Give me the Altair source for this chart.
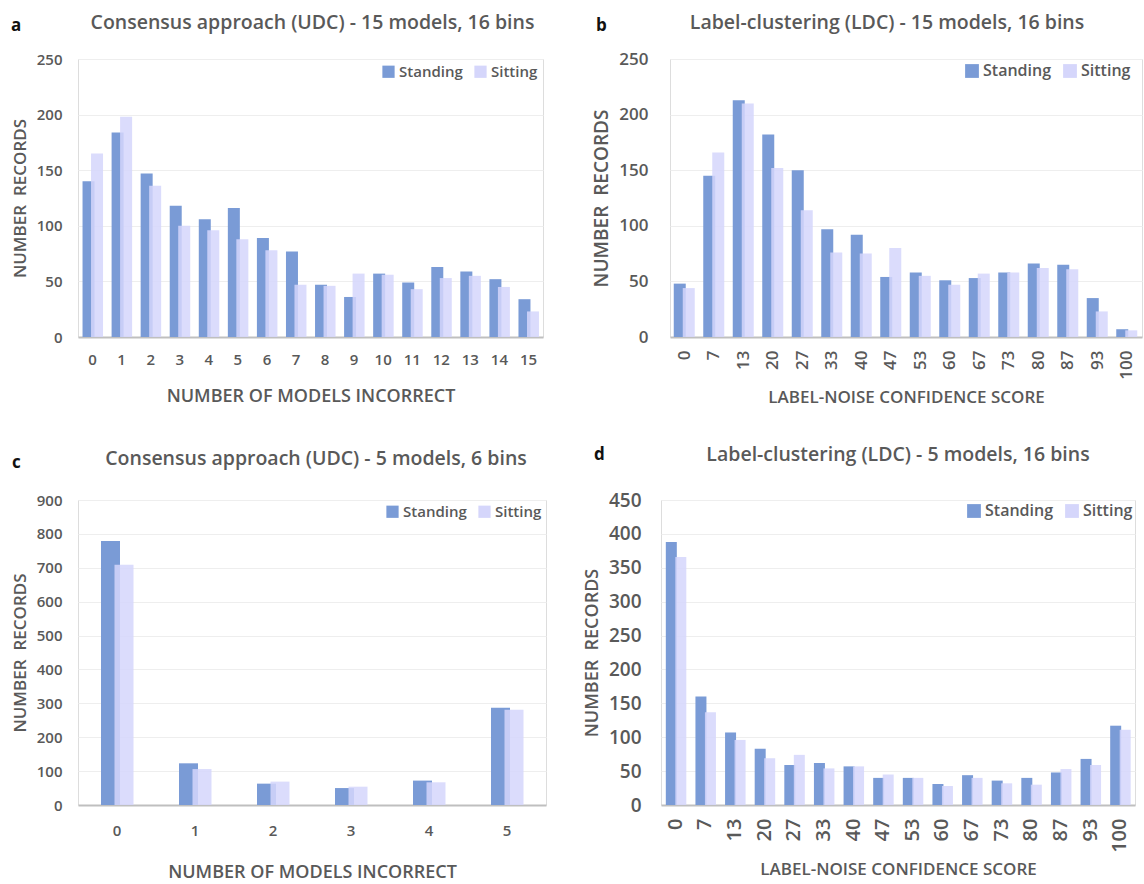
import altair as alt
import pandas as pd

SERIES = ["Standing", "Sitting"]
COLORS = ["#7a9bd6", "#d5d6fb"]

# Panel a
a_cats = [str(i) for i in range(16)]
a_standing = [140, 184, 147, 118, 106, 116, 89, 77, 47, 36, 57, 49, 63, 59, 52, 34]
a_sitting = [165, 198, 136, 100, 96, 88, 78, 47, 46, 57, 56, 43, 53, 55, 45, 23]

# Panel b
b_cats = ["0", "7", "13", "20", "27", "33", "40", "47", "53", "60", "67", "73", "80", "87", "93", "100"]
b_standing = [48, 145, 213, 182, 150, 97, 92, 54, 58, 51, 53, 58, 66, 65, 35, 7]
b_sitting = [44, 166, 210, 152, 114, 76, 75, 80, 55, 47, 57, 58, 62, 61, 23, 6]

# Panel c
c_cats = ["0", "1", "2", "3", "4", "5"]
c_standing = [779, 123, 63, 50, 72, 287]
c_sitting = [709, 106, 69, 54, 67, 281]

# Panel d
d_cats = ["0", "7", "13", "20", "27", "33", "40", "47", "53", "60", "67", "73", "80", "87", "93", "100"]
d_standing = [388, 160, 107, 83, 59, 62, 57, 40, 40, 31, 44, 36, 40, 48, 68, 117]
d_sitting = [366, 137, 96, 69, 74, 54, 57, 45, 40, 28, 40, 32, 30, 53, 59, 111]

TITLES = [
    "Consensus approach (UDC) - 15 models, 16 bins",
    "Label-clustering (LDC) - 15 models, 16 bins",
    "Consensus approach (UDC) - 5 models, 6 bins",
    "Label-clustering (LDC) - 5 models, 16 bins",
]
LETTERS = ["a", "b", "c", "d"]
X_TITLES = ["NUMBER OF MODELS INCORRECT", "LABEL-NOISE CONFIDENCE SCORE",
            "NUMBER OF MODELS INCORRECT", "LABEL-NOISE CONFIDENCE SCORE"]
Y_TITLE = "NUMBER\u00a0 RECORDS"

FONT = "Open Sans"
GRAY = "#595959"


def panel(cats, standing, sitting, title, letter, xtitle, ymax, ystep, cfg):
    df = pd.DataFrame({
        "cat": cats * 2,
        "series": [SERIES[0]] * len(cats) + [SERIES[1]] * len(cats),
        "value": standing + sitting,
    })
    color = alt.Color(
        "series:N",
        scale=alt.Scale(domain=SERIES, range=COLORS),
        legend=alt.Legend(
            orient="none", legendX=cfg["lx"], legendY=cfg["ly"], direction="horizontal",
            title=None, symbolType="square", symbolSize=cfg["ss"], symbolStrokeWidth=0,
            symbolOpacity=1, labelFont=FONT, labelFontSize=cfg["lf"], labelFontWeight=600,
            labelColor=GRAY, columnPadding=cfg["cp"], labelOffset=3,
        ),
    )
    x = alt.X(
        "cat:N", sort=cats,
        scale=alt.Scale(paddingInner=0, paddingOuter=0),
        axis=alt.Axis(
            title=xtitle, labelAngle=cfg["angle"], ticks=False, domainColor="#bfbfbf",
            domainWidth=2, labelFont=FONT, labelFontSize=cfg["xf"], labelFontWeight=600,
            labelColor=GRAY, labelPadding=cfg["xlp"], titleFont=FONT,
            titleFontSize=cfg["xtf"], titleFontWeight=600, titleColor=GRAY,
            titlePadding=cfg["xtp"],
        ),
    )
    y = alt.Y(
        "value:Q",
        scale=alt.Scale(domain=[0, ymax], nice=False),
        axis=alt.Axis(
            title=Y_TITLE, values=list(range(0, ymax + 1, ystep)), ticks=False, domain=False,
            gridColor="#eeeeee", gridWidth=1, labelFont=FONT, labelFontSize=cfg["yf"],
            labelFontWeight=600, labelColor=GRAY, labelPadding=cfg["ylp"], titleFont=FONT,
            titleFontSize=cfg["ytf"], titleFontWeight=600, titleColor=GRAY,
            titlePadding=cfg["ytp"],
        ),
    )
    base = alt.Chart(df)
    st = base.transform_filter(alt.datum.series == SERIES[0]).mark_bar(
        width=cfg["bw"], xOffset=cfg["o1"]).encode(x=x, y=y, color=color)
    si = base.transform_filter(alt.datum.series == SERIES[1]).mark_bar(
        width=cfg["bw"], xOffset=cfg["o2"], opacity=0.85).encode(x=x, y=y, color=color)
    lt = alt.Chart(pd.DataFrame({"t": [letter]})).mark_text(
        align="left", baseline="middle", font=FONT, fontSize=17, fontWeight="bold",
        color="#111111").encode(text="t:N", x=alt.value(cfg["ltx"]), y=alt.value(cfg["lty"]))
    tt = alt.Chart(pd.DataFrame({"t": [title]})).mark_text(
        align="center", baseline="middle", font=FONT, fontSize=19.5, fontWeight=600,
        color=GRAY).encode(text="t:N", x=alt.value(cfg["w"] / 2 + cfg["tdx"]),
                           y=alt.value(cfg["tty"]))
    return alt.layer(st, si, lt, tt).properties(width=cfg["w"], height=cfg["h"])


cfg_a = dict(w=465, h=278, lx=303, ly=5, ss=150, lf=15, cp=10, angle=0, xf=15, xlp=15, xtf=18,
             xtp=20, yf=15, ylp=16, ytf=17, ytp=7, bw=12, o1=-4, o2=4.5, ltx=-67, lty=-33,
             tty=-36, tdx=2)
cfg_b = dict(w=472, h=278, lx=294, ly=4, ss=190, lf=16, cp=10, angle=-90, xf=17, xlp=13, xtf=17,
             xtp=10, yf=17, ylp=22, ytf=19, ytp=7, bw=12, o1=-5, o2=4, ltx=-74, lty=-33,
             tty=-36, tdx=-19)
cfg_c = dict(w=468, h=305, lx=307, ly=4, ss=150, lf=15, cp=10, angle=0, xf=15, xlp=18, xtf=18,
             xtp=25, yf=15, ylp=16, ytf=17, ytp=7, bw=19, o1=-6.5, o2=7, ltx=-66, lty=-37,
             tty=-41, tdx=4)
cfg_d = dict(w=474, h=305, lx=305, ly=3, ss=190, lf=16, cp=10, angle=-90, xf=20, xlp=13, xtf=17,
             xtp=9, yf=19, ylp=20, ytf=18, ytp=7, bw=11, o1=-4.5, o2=5, ltx=-67, lty=-45,
             tty=-45, tdx=0)

pa = panel(a_cats, a_standing, a_sitting, TITLES[0], LETTERS[0], X_TITLES[0], 250, 50, cfg_a)
pb = panel(b_cats, b_standing, b_sitting, TITLES[1], LETTERS[1], X_TITLES[1], 250, 50, cfg_b)
pc = panel(c_cats, c_standing, c_sitting, TITLES[2], LETTERS[2], X_TITLES[2], 900, 100, cfg_c)
pd_ = panel(d_cats, d_standing, d_sitting, TITLES[3], LETTERS[3], X_TITLES[3], 450, 50, cfg_d)

row1 = alt.hconcat(pa, pb, spacing=48).resolve_scale(color="independent").resolve_legend(color="independent")
row2 = alt.hconcat(pc, pd_, spacing=35).resolve_scale(color="independent").resolve_legend(color="independent")

chart = alt.vconcat(row1, row2, spacing=38).resolve_scale(color="independent").resolve_legend(
    color="independent"
).properties(
    padding={"left": 10, "top": 12, "right": 0, "bottom": 0},
).configure_view(strokeWidth=0).configure(background="white")

chart.save("out.html", embed_options={"renderer": "svg", "actions": False})
